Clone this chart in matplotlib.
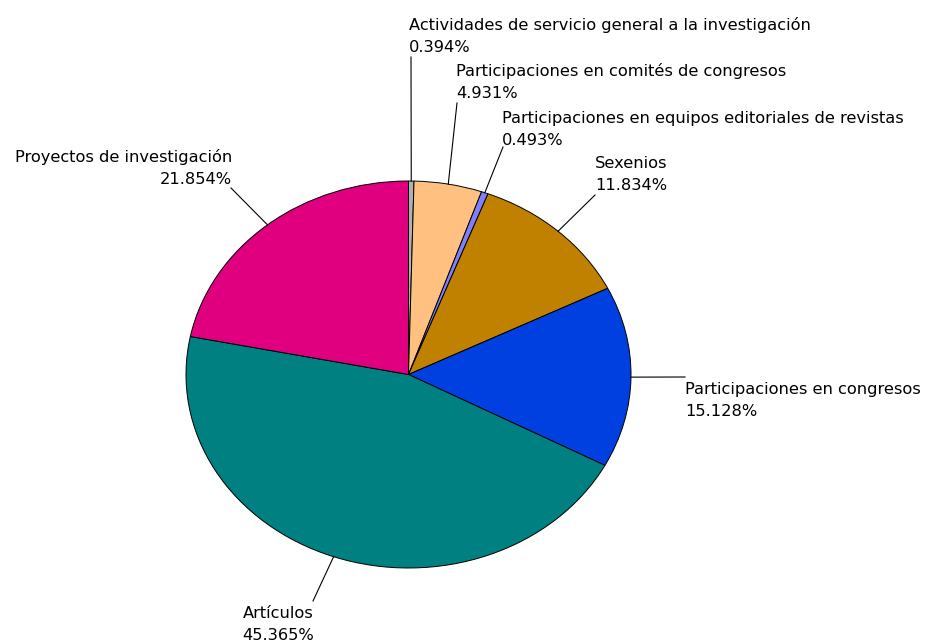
import matplotlib
matplotlib.use("Agg")
import matplotlib.pyplot as plt
import numpy as np

labels = ["Actividades de servicio general a la investigación",
          "Participaciones en comités de congresos",
          "Participaciones en equipos editoriales de revistas",
          "Sexenios",
          "Participaciones en congresos",
          "Artículos",
          "Proyectos de investigación"]
values = [0.394, 4.931, 0.493, 11.834, 15.128, 45.365, 21.854]
colors = ["#B0B0B0", "#FFC080", "#8080FF", "#C08000", "#0040E0", "#008080", "#E0007F"]

W, H = 927, 643
fig = plt.figure(figsize=(W / 100, H / 100), dpi=100)
# ellipse: left 186, right 631, top 181, bottom 568 (pixels)
L, R, T, B = 186, 631, 181, 568
ax = fig.add_axes([L / W, 1 - B / H, (R - L) / W, (B - T) / H])
wedges, _ = ax.pie(values, colors=colors, startangle=90, counterclock=False,
                   wedgeprops=dict(edgecolor="black", linewidth=0.7),
                   radius=1.0, center=(0, 0), normalize=True)
ax.set_aspect("auto")
ax.set_xlim(-1, 1)
ax.set_ylim(-1, 1)
ax.axis("off")

# leader end positions in pixels, text positions and alignment
leader_end = [(411, 57), (457, 103), (503, 147), (595, 195), (685, 377), (313, 601), (231, 188)]
text_pos = [(409, 55, "left", "bottom"),
            (456, 101, "left", "bottom"),
            (502, 148, "left", "bottom"),
            (595, 193, "left", "bottom"),
            (685, 382, "left", "top"),
            (278, 606, "center", "top"),
            (232, 187, "right", "bottom")]

def px2data(px, py):
    return ax.transData.inverted().transform((px, H - py))

total = sum(values)
cum = 0.0
for i, v in enumerate(values):
    mid = 90 - 360 * (cum + v / 2) / total
    cum += v
    ex, ey = np.cos(np.radians(mid)), np.sin(np.radians(mid))
    lx, ly = px2data(*leader_end[i])
    ax.plot([ex, lx], [ey, ly], color="black", linewidth=0.8, clip_on=False)
    tx, ty, ha, va = text_pos[i]
    fig.text(tx / W, 1 - ty / H, f"{labels[i]}\n{values[i]:.3f}%", ha=ha, va=va,
             multialignment=ha, fontsize=11.7, family="DejaVu Sans",
             color="black", linespacing=1.6)

fig.savefig("out.png", dpi=100, facecolor="white")
